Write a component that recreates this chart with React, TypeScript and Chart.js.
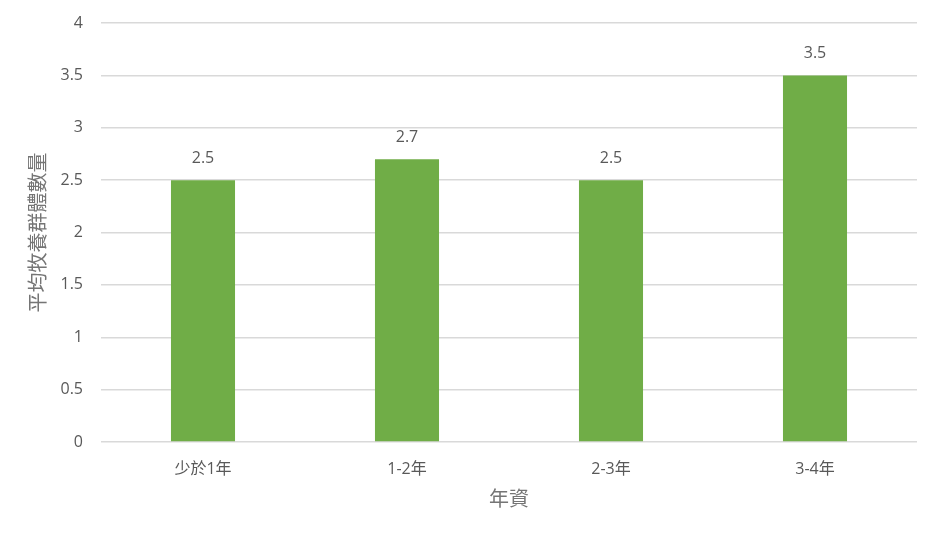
import React, { useEffect, useRef } from "react";
import { Chart, registerables } from "chart.js";

Chart.register(...registerables);

const categories = ["少於1年", "1-2年", "2-3年", "3-4年"];
const averageGroups = [2.5, 2.7, 2.5, 3.5];
const yTicks = [0, 0.5, 1, 1.5, 2, 2.5, 3, 3.5, 4];

const FONT = "'Open Sans', 'Noto Sans CJK TC', sans-serif";
const TEXT = "#595959";

const valueLabels = {
  id: "valueLabels",
  afterDatasetsDraw(chart: any) {
    const { ctx } = chart;
    const meta = chart.getDatasetMeta(0);
    ctx.save();
    ctx.font = `16px ${FONT}`;
    ctx.fillStyle = TEXT;
    ctx.textAlign = "center";
    ctx.textBaseline = "middle";
    meta.data.forEach((bar: any, i: number) => {
      ctx.fillText(String(averageGroups[i]), bar.x, bar.y - 22);
    });
    ctx.restore();
  },
};

export default function App() {
  const canvasRef = useRef<HTMLCanvasElement | null>(null);

  useEffect(() => {
    document.body.style.margin = "0";
    const canvas = canvasRef.current;
    if (!canvas) return;
    const chart = new Chart(canvas, {
      type: "bar",
      data: {
        labels: categories,
        datasets: [
          {
            data: averageGroups,
            backgroundColor: "#70AD47",
            categoryPercentage: 1,
            barPercentage: 0.314,
          },
        ],
      },
      options: {
        responsive: false,
        animation: false,
        layout: { padding: { left: 20, right: 24, top: 23, bottom: 0 } },
        plugins: {
          legend: { display: false },
          tooltip: { enabled: false },
        },
        scales: {
          x: {
            grid: { display: false },
            border: { display: false },
            ticks: {
              color: TEXT,
              font: { family: FONT, size: 16 },
              padding: 10,
            },
            title: {
              display: true,
              text: "年資",
              color: "#757575",
              font: { family: FONT, size: 20 },
              padding: { top: 0, bottom: 26 },
            },
            afterFit(scale: any) {
              scale.height = 96;
              scale.paddingLeft = 0;
              scale.paddingRight = 0;
            },
          },
          y: {
            min: 0,
            max: 4,
            afterBuildTicks(scale: any) {
              scale.ticks = yTicks.map((v) => ({ value: v }));
            },
            grid: { color: "#D9D9D9", lineWidth: 1.5, drawTicks: false },
            border: { display: false },
            ticks: {
              color: TEXT,
              font: { family: FONT, size: 16 },
              padding: 18,
              callback: (v: any) => String(v),
            },
            title: {
              display: true,
              text: "平均牧養群體數量",
              color: "#757575",
              font: { family: FONT, size: 20 },
              padding: { top: 7, bottom: 0 },
            },
            afterFit(scale: any) {
              scale.width = 81;
              scale.paddingTop = 0;
              scale.paddingBottom = 0;
            },
          },
        },
      },
      plugins: [valueLabels],
    });
    return () => chart.destroy();
  }, []);

  return (
    <div style={{ position: "absolute", left: 0, top: 0, width: 941, height: 538, background: "#fff" }}>
      <canvas ref={canvasRef} width={941} height={538} />
    </div>
  );
}
